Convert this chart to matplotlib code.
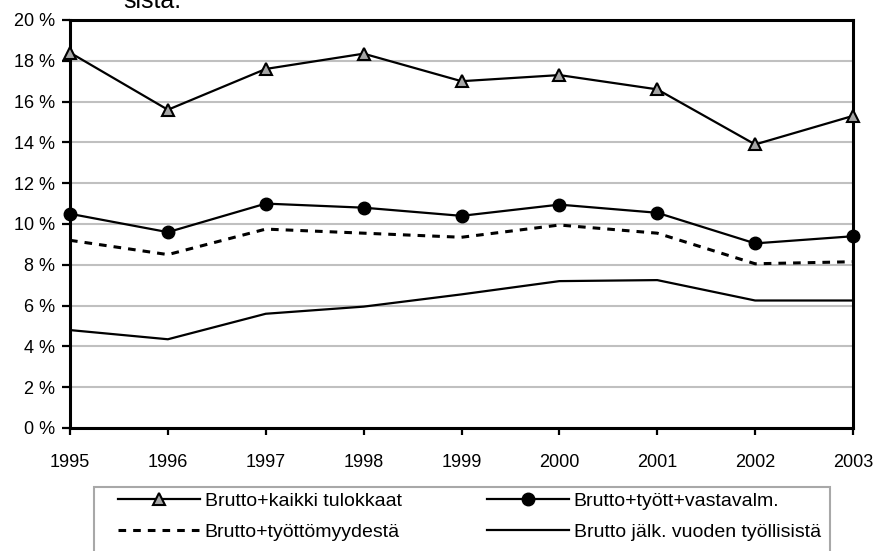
import matplotlib
matplotlib.use("Agg")
import matplotlib.pyplot as plt
from matplotlib import font_manager
from matplotlib.patches import Rectangle
from matplotlib.ticker import FuncFormatter

years = [1995, 1996, 1997, 1998, 1999, 2000, 2001, 2002, 2003]
kaikki_tulokkaat = [18.4, 15.6, 17.6, 18.35, 17.0, 17.3, 16.6, 13.9, 15.3]
tyott_vastavalm = [10.5, 9.6, 11.0, 10.8, 10.4, 10.95, 10.55, 9.05, 9.4]
tyottomyydesta = [9.2, 8.5, 9.75, 9.55, 9.35, 9.95, 9.55, 8.05, 8.15]
jalk_vuoden = [4.8, 4.35, 5.6, 5.95, 6.55, 7.2, 7.25, 6.25, 6.25]

labels = ["Brutto+kaikki tulokkaat", "Brutto+tyött+vastavalm.",
          "Brutto+työttömyydestä", "Brutto jälk. vuoden työllisistä"]
yticks = list(range(0, 21, 2))

# a narrow sans face if one is installed, otherwise the regular one
installed = {f.name for f in font_manager.fontManager.ttflist}
narrow = "Liberation Sans Narrow" in installed
if narrow:
    plt.rcParams["font.family"] = ["Liberation Sans Narrow", "DejaVu Sans"]
    tick_fs, leg_fs, hlen, lspace, hpad = 15.5, 16.5, 3.6, 0.5, 0.22
else:
    plt.rcParams["font.family"] = ["Liberation Sans", "DejaVu Sans"]
    tick_fs, leg_fs, hlen, lspace, hpad = 13, 14, 4.2, 0.7, 0.26

W, H = 875, 551
fig = plt.figure(figsize=(W / 100, H / 100), dpi=100)
ax = fig.add_axes([70 / W, 1 - 428 / H, (853 - 70) / W, (428 - 20) / H])

ax.set_xlim(years[0], years[-1])
ax.set_ylim(0, 20)
ax.set_yticks(yticks)
ax.yaxis.set_major_formatter(FuncFormatter(lambda v, p: f"{int(v)} %"))
ax.set_xticks(years)
ax.grid(axis="y", color="#c0c0c0", linewidth=1.5)
ax.set_axisbelow(True)
for s in ax.spines.values():
    s.set_linewidth(2.2)
    s.set_color("black")
ax.tick_params(axis="both", direction="out", width=1.6,
               labelsize=tick_fs, colors="black")
ax.tick_params(axis="x", length=5, pad=13.5)
ax.tick_params(axis="y", length=6, pad=5)

h1, = ax.plot(years, kaikki_tulokkaat, color="black", lw=1.6, marker="^",
              ms=9, mfc="#a6a6a6", mec="black", mew=1.5, clip_on=False,
              zorder=4)
h2, = ax.plot(years, tyott_vastavalm, color="black", lw=1.6, marker="o",
              ms=9, mfc="black", mec="black", clip_on=False, zorder=4)
h3, = ax.plot(years, tyottomyydesta, color="black", lw=2.2,
              linestyle=(0, (2.5, 2.3)), zorder=3)
h4, = ax.plot(years, jalk_vuoden, color="black", lw=1.6, zorder=3)

# tail of the heading line that runs above the chart
fig.text(123 / W, 1 - 8 / H, "sista.", fontsize=18, va="baseline", ha="left",
         family=["Liberation Sans", "DejaVu Sans"])

# legend frame, running past the lower edge of the figure
fig.patches.append(Rectangle((94 / W, -0.05), (830 - 94) / W, 0.05 + (551 - 487) / H,
                             transform=fig.transFigure, fill=False,
                             edgecolor="#a8a8a8", linewidth=1.5))

leg_kw = dict(loc="upper left", frameon=False, fontsize=leg_fs,
              handlelength=hlen, handletextpad=hpad, labelspacing=lspace,
              borderpad=0, borderaxespad=0)
leg1 = fig.legend([h1, h3], [labels[0], labels[2]],
                  bbox_to_anchor=(118 / W, 1 - 492 / H), **leg_kw)
leg2 = fig.legend([h2, h4], [labels[1], labels[3]],
                  bbox_to_anchor=(487 / W, 1 - 492 / H), **leg_kw)

fig.savefig("out.png", dpi=100)
